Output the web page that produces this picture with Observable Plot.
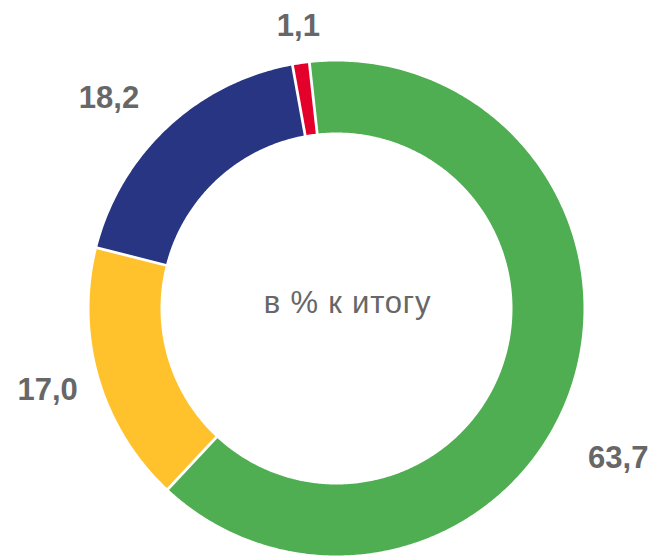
<!DOCTYPE html>
<html><head><meta charset="utf-8">
<script src="https://cdn.jsdelivr.net/npm/d3@7"></script>
<script src="https://cdn.jsdelivr.net/npm/@observablehq/plot@0.6"></script>
<style>body{margin:0;background:#fff;} #chart svg{display:block;}</style>
</head><body><div id="chart"></div>
<script>
// ---- data ----
const categories = ["Группа 1", "Группа 2", "Группа 3", "Группа 4"];
const values = [63.7, 17.0, 18.2, 1.1];
const valueLabels = ["63,7", "17,0", "18,2", "1,1"];
const colors = ["#4FAE51", "#FFC22D", "#283583", "#E3002B"];
const centerText = "в % к итогу";

// ---- layout ----
const W = 654, H = 557;
const cx = 336, cy = 308, R = 247, r0 = 176, startDeg = -6.3;
const labelPlacement = {
  "Группа 1": {da: 9.6, r: 319},
  "Группа 2": {da: 0.7, r: 300},
  "Группа 3": {da: -4.2, r: 310},
  "Группа 4": {da: 0.6, r: 285}
};
const font = "'Liberation Sans', Arial, sans-serif";
const textColor = "#676767";

const total = d3.sum(values);
let acc = 0;
const slices = categories.map((c, i) => {
  const a0 = startDeg + acc / total * 360;
  acc += values[i];
  const a1 = startDeg + acc / total * 360;
  return {name: c, value: values[i], label: valueLabels[i], a0, a1, mid: (a0 + a1) / 2};
});
const rad = d => d * Math.PI / 180;
const px = (r, a) => r * Math.sin(rad(a));
const py = (r, a) => -r * Math.cos(rad(a));

const poly = [];
for (const s of slices) {
  const n = Math.max(2, Math.ceil((s.a1 - s.a0) / 0.5));
  for (let k = 0; k <= n; k++) {
    const a = s.a0 + (s.a1 - s.a0) * k / n;
    poly.push({name: s.name, x: px(R, a), y: py(R, a)});
  }
  for (let k = n; k >= 0; k--) {
    const a = s.a0 + (s.a1 - s.a0) * k / n;
    poly.push({name: s.name, x: px(r0, a), y: py(r0, a)});
  }
}
const seps = slices.map(s => ({x1: px(r0 - 4, s.a0), y1: py(r0 - 4, s.a0), x2: px(R + 4, s.a0), y2: py(R + 4, s.a0)}));
const labelsPos = slices.map(s => {
  const p = labelPlacement[s.name];
  const a = s.mid + p.da;
  return {label: s.label, x: px(p.r, a), y: py(p.r, a)};
});

const chart = Plot.plot({
  width: W, height: H,
  margin: 0,
  x: {domain: [-cx, W - cx], range: [0, W], axis: null},
  y: {domain: [-cy, H - cy], range: [0, H], axis: null},
  color: {domain: categories, range: colors},
  style: {background: "#fff", fontFamily: font},
  marks: [
    Plot.line(poly, {x: "x", y: "y", z: "name", fill: "name", stroke: null, curve: "linear"}),
    Plot.link(seps, {x1: "x1", y1: "y1", x2: "x2", y2: "y2", stroke: "#fff", strokeWidth: 2.8}),
    Plot.text(labelsPos, {x: "x", y: "y", text: "label", fontSize: 31, fontWeight: "bold", fill: textColor, textAnchor: "middle", lineAnchor: "middle"}),
    Plot.text([{t: centerText, x: 0, y: 0}], {x: "x", y: "y", text: "t", dx: 11, dy: -5, fontSize: 31, fill: textColor, textAnchor: "middle", lineAnchor: "middle"})
  ]
});
chart.querySelectorAll("text").forEach(t => { if (t.textContent === centerText) t.setAttribute("letter-spacing", "0.8"); });
document.getElementById("chart").appendChild(chart);
</script>
</body></html>
